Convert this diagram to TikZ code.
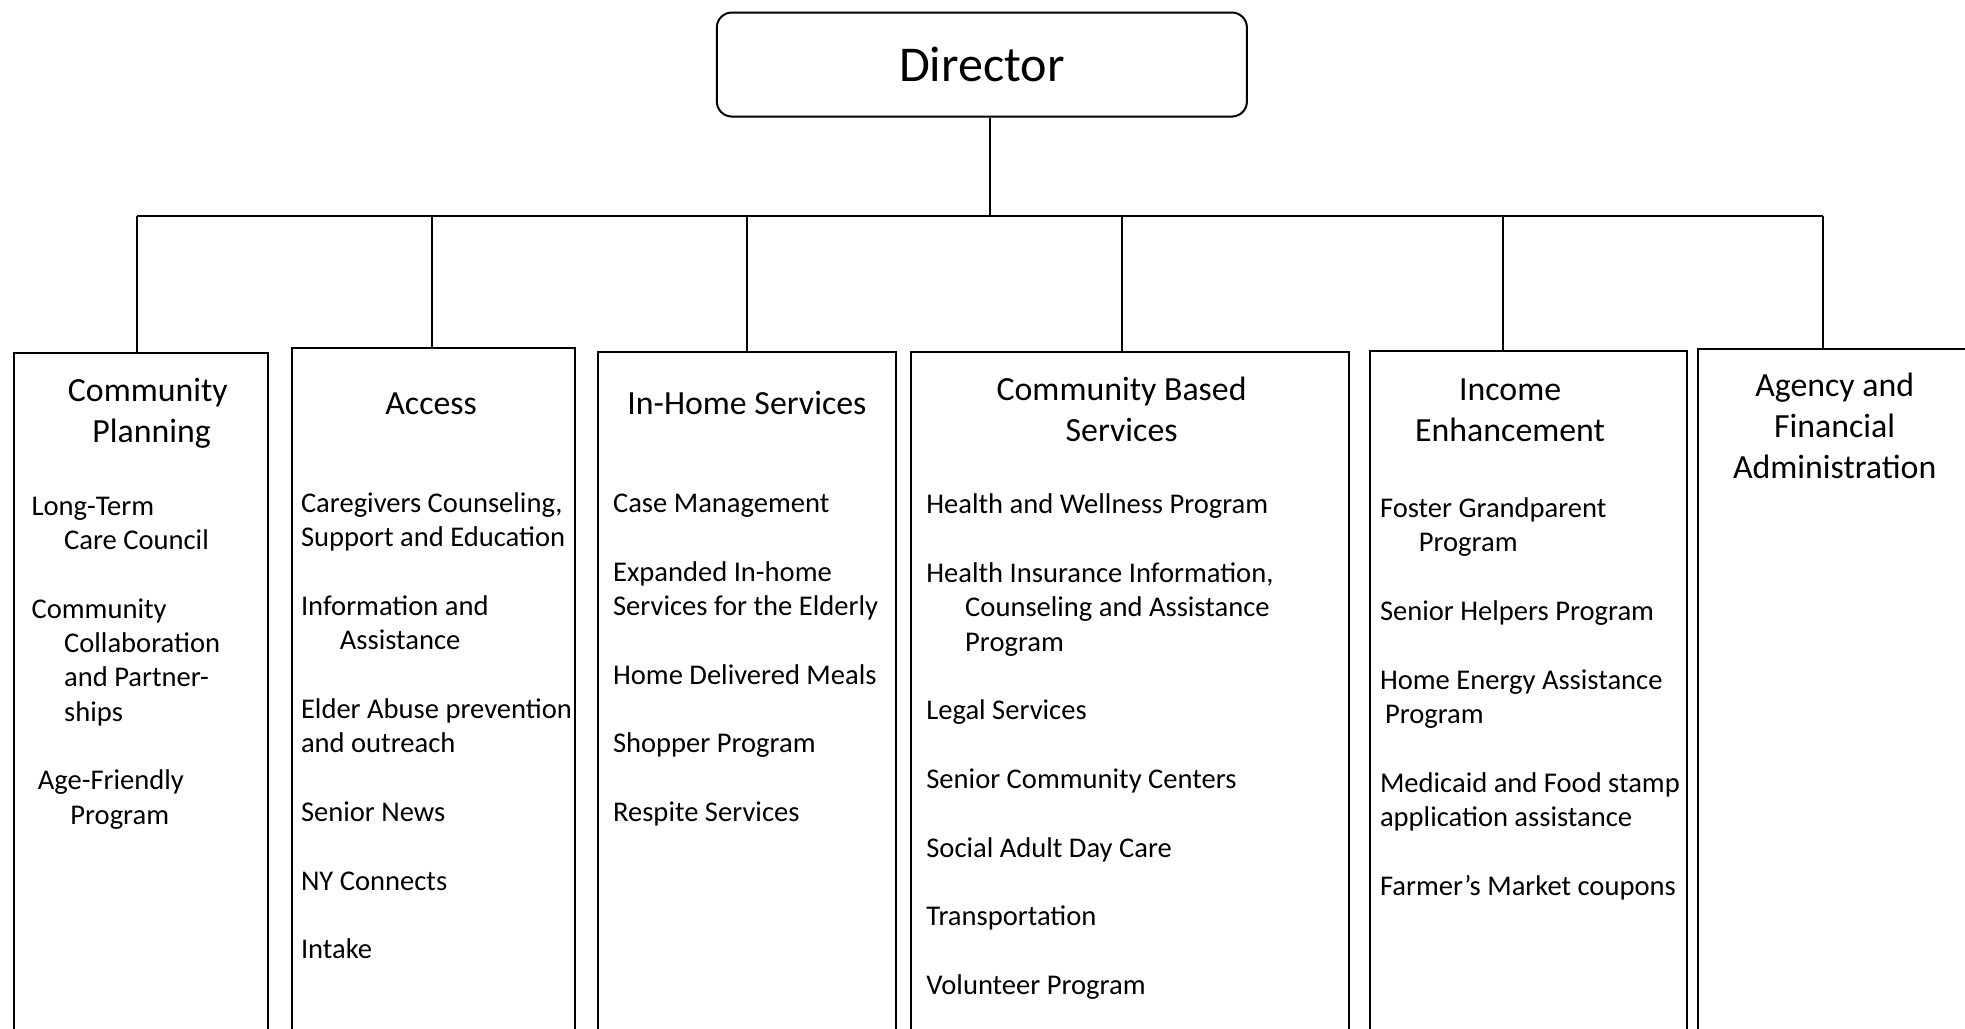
\documentclass[tikz,border=0pt]{standalone}
\usepackage{fontspec}
\setmainfont{Carlito}
\usetikzlibrary{positioning}

\begin{document}
\begin{tikzpicture}[x=1pt,y=-1pt]
\tikzset{ln/.style={line width=1.6pt}}
\tikzstyle{unit}=[draw,ln,anchor=north west,inner sep=0pt,minimum height=700pt]
\tikzstyle{head}=[align=center,anchor=base,inner sep=0pt,font=\fontsize{27}{32.8}\selectfont]
\tikzstyle{items}=[align=left,anchor=base west,inner sep=0pt,font=\fontsize{22.8}{27.4}\selectfont]
\clip (0,0) rectangle (1568,821);
\node[draw,ln,rounded corners=12pt,minimum width=423pt,minimum height=83pt,font=\fontsize{40}{48}\selectfont](d) at (783.5,51.5){Director};
\node[unit,minimum width=203pt](u1) at (10,281){};
\node[unit,minimum width=226pt](u2) at (232,277){};
\node[unit,minimum width=238pt](u3) at (476,280){};
\node[unit,minimum width=350pt](u4) at (726,280){};
\node[unit,minimum width=253pt](u5) at (1092,279){};
\node[unit,minimum width=260pt](u6) at (1354,278){};

\coordinate (b0) at (790,172);
\coordinate (b1) at (109,172);
\coordinate (b2) at (345,172);
\coordinate (b3) at (596,172);
\coordinate (b4) at (895,172);
\coordinate (b5) at (1199,172);
\coordinate (b6) at (1455,172);
\draw[ln] (b0 |- d.south) -- (b0);
\draw[ln] (b1) -- (b6);
\foreach \i in {1,...,6}
  \draw[ln] (b\i) -- (b\i |- u\i.north);

\node[head](h1) at (118,353){Community\\\hspace*{6pt}Planning};
\node[head](h2) at (344,331){Access};
\node[head](h3) at (596,331){In-Home Services};
\node[head](h4) at (895,352){Community Based\\Services};
\node[head](h5) at (1205,352){Income\\Enhancement};
\node[head](h6) at (1464,382){Agency and\\Financial\\Administration};

\node[items](t1) at (25,657.6){Long-Term\\\hspace*{26pt}Care Council\\[27.4pt]Community\\\hspace*{26pt}Collaboration\\\hspace*{26pt}and Partner-\\\hspace*{26pt}ships\\[27.4pt]\hspace*{5pt}Age-Friendly\\\hspace*{31pt}Program};
\node[items](t2) at (240,765.2){Caregivers Counseling,\\Support and Education\\[27.4pt]Information and\\\hspace*{31pt}Assistance\\[27.4pt]Elder Abuse prevention\\and outreach\\[27.4pt]Senior News\\[27.4pt]NY Connects\\[27.4pt]Intake};
\node[items](t3) at (489,655.6){Case Management\\[27.4pt]Expanded In-home\\Services for the Elderly\\[27.4pt]Home Delivered Meals\\[27.4pt]Shopper Program\\[27.4pt]Respite Services};
\node[items](t4) at (739,793.6){Health and Wellness Program\\[27.4pt]Health Insurance Information,\\\hspace*{31pt}Counseling and Assistance\\\hspace*{31pt}Program\\[27.4pt]Legal Services\\[27.4pt]Senior Community Centers\\[27.4pt]Social Adult Day Care\\[27.4pt]Transportation\\[27.4pt]Volunteer Program};
\node[items](t5) at (1101,714.4){Foster Grandparent\\\hspace*{31pt}Program\\[27.4pt]Senior Helpers Program\\[27.4pt]Home Energy Assistance\\\hspace*{4pt}Program\\[27.4pt]Medicaid and Food stamp\\application assistance\\[27.4pt]Farmer’s Market coupons};
\end{tikzpicture}
\end{document}
